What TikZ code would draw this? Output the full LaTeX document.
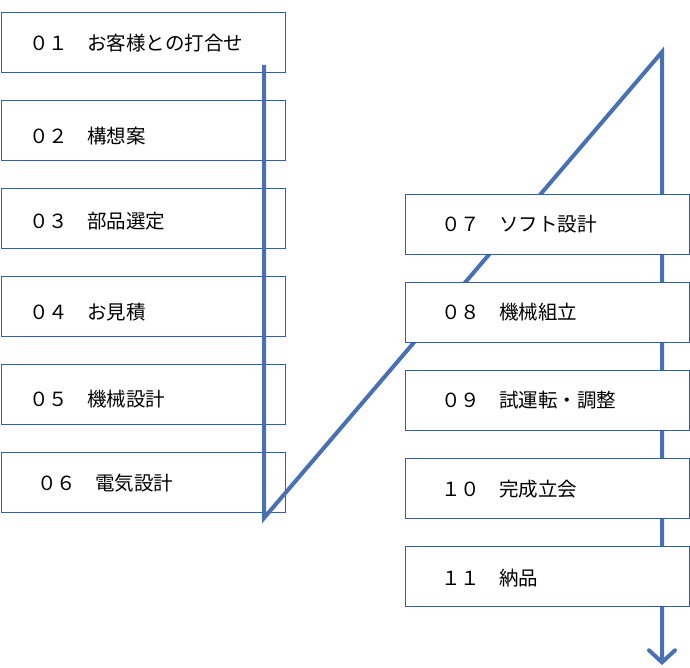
\documentclass[tikz,border=0pt]{standalone}
\usepackage{fontspec}
\setmainfont{Noto Sans CJK JP}
\usetikzlibrary{arrows.meta}
\definecolor{boxblue}{RGB}{44,92,192}
\definecolor{flowblue}{RGB}{72,112,178}
\tikzset{
  stepbox/.style={draw=boxblue, line width=1pt, minimum width=284pt, minimum height=60pt, inner sep=0pt, anchor=north west},
  rbox/.style={stepbox, fill=white},
  lbl/.style={anchor=west, inner sep=0pt, font=\fontsize{19.5pt}{21pt}\selectfont},
  flow/.style={draw=flowblue, line width=4pt, line join=miter}
}
\newcommand{\stepnum}[1]{\makebox[58pt][l]{#1}}
\begin{document}
\begin{tikzpicture}[x=1pt,y=-1pt]
\useasboundingbox (0,0) rectangle (690,668);
% left column
\node[stepbox] (b1) at (0.5,12) {};
\node[stepbox] (b2) at (0.5,100) {};
\node[stepbox] (b3) at (0.5,188) {};
\node[stepbox] (b4) at (0.5,276) {};
\node[stepbox] (b5) at (0.5,364) {};
\node[stepbox] (b6) at (0.5,452) {};
\node[lbl] (t1) at (29,43) {\stepnum{０１}お客様との打合せ};
\node[lbl] (t2) at (29,136) {\stepnum{０２}構想案};
\node[lbl] (t3) at (29,221) {\stepnum{０３}部品選定};
\node[lbl] (t4) at (29,312) {\stepnum{０４}お見積};
\node[lbl] (t5) at (29,399) {\stepnum{０５}機械設計};
\node[lbl] (t6) at (37,483) {\stepnum{０６}電気設計};
% flow line
\coordinate (s) at (264,65);
\coordinate (v1) at (264,518);
\coordinate (v2) at (662,52);
\coordinate (e) at (662,665);
\draw[flow, -{Straight Barb[length=12pt,width=26pt,line cap=round]}] (s) -- (v1) -- (v2) -- (e);
% right column
\node[rbox] (b7) at (404.5,194) {};
\node[rbox] (b8) at (404.5,282) {};
\node[rbox] (b9) at (404.5,370) {};
\node[rbox] (b10) at (404.5,458) {};
\node[rbox] (b11) at (404.5,546) {};
\node[lbl] (t7) at (441,224) {\stepnum{０７}ソフト設計};
\node[lbl] (t8) at (441,312) {\stepnum{０８}機械組立};
\node[lbl] (t9) at (441,400) {\stepnum{０９}試運転・調整};
\node[lbl] (t10) at (441,489) {\stepnum{１０}完成立会};
\node[lbl] (t11) at (441,578) {\stepnum{１１}納品};
\end{tikzpicture}
\end{document}
